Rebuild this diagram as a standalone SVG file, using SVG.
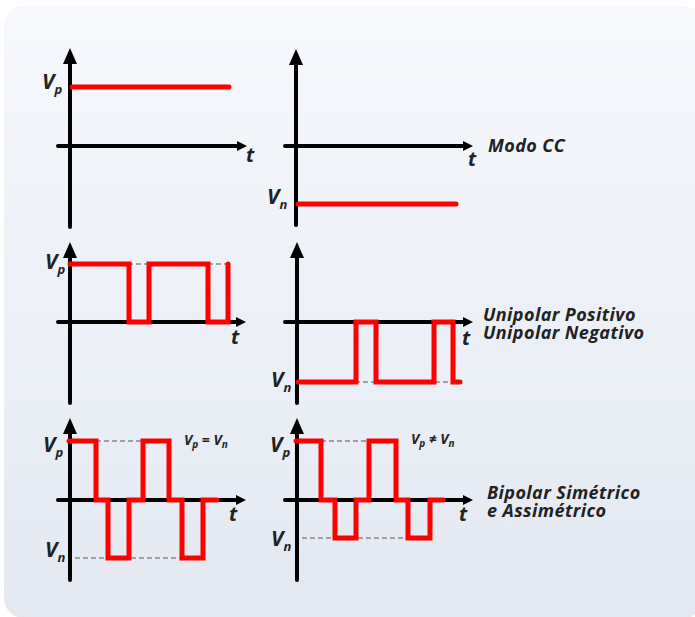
<svg xmlns="http://www.w3.org/2000/svg" width="695" height="617" viewBox="0 0 695 617">
<defs>
<linearGradient id="bg" x1="0" y1="0" x2="0" y2="1">
<stop offset="0" stop-color="#f6f8fc"/>
<stop offset="1" stop-color="#e3e8f1"/>
</linearGradient>
<marker id="ay" markerUnits="userSpaceOnUse" markerWidth="16" markerHeight="14" viewBox="0 0 16 14" refX="2" refY="7" orient="auto">
<path d="M0,0 L16,7 L0,14 z" fill="#000"/>
</marker>
<marker id="ax" markerUnits="userSpaceOnUse" markerWidth="10" markerHeight="10" viewBox="0 0 10 10" refX="2" refY="5" orient="auto">
<path d="M0,0 L10,5 L0,10 z" fill="#000"/>
</marker>
</defs>
<style>
.axis{stroke:#000;stroke-width:4;stroke-linecap:round;fill:none}
.ya{marker-end:url(#ay)}
.xa{marker-end:url(#ax)}
.sig{stroke:#ff0000;stroke-width:5;stroke-linecap:round;stroke-linejoin:miter;fill:none}
.dash{stroke:#555;stroke-width:1;stroke-dasharray:5 3;fill:none}
text{font-family:"Open Sans","Noto Sans","DejaVu Sans",sans-serif;font-weight:bold;font-style:italic;fill:#222}
.v{font-size:21px}
.sub{font-size:13px}
.t{font-size:20px}
.lbl{font-size:18px;letter-spacing:0.4px}
.eq{font-size:14px}
.eqs{font-size:10px}
</style>
<rect x="4" y="6" width="700" height="612" rx="20" fill="url(#bg)"/>

<g id="panel-vp-cc">
<line class="axis ya" x1="70" y1="227" x2="70" y2="62"/>
<line class="axis xa" x1="58" y1="146" x2="239" y2="146"/>
<line class="sig" x1="72" y1="87" x2="229" y2="87"/>
<text class="v" x="42" y="89">V<tspan class="sub" dy="5">p</tspan></text>
<text class="t" x="246" y="162">t</text>
</g>

<g id="panel-vn-cc">
<line class="axis ya" x1="296" y1="225" x2="296" y2="63"/>
<line class="axis xa" x1="285" y1="146" x2="465" y2="146"/>
<line class="sig" x1="298" y1="204" x2="456" y2="204"/>
<text class="v" x="267" y="204">V<tspan class="sub" dy="5">n</tspan></text>
<text class="t" x="468" y="166">t</text>
</g>

<g id="panel-unipolar-pos">
<line class="dash" x1="72" y1="264" x2="228" y2="264"/>
<line class="axis ya" x1="70" y1="403" x2="70" y2="256"/>
<line class="axis xa" x1="58" y1="322" x2="238" y2="322"/>
<polyline class="sig" points="70,264 129,264 129,322 149,322 149,264 208,264 208,322 228,322 228,264"/>
<text class="v" x="45" y="269">V<tspan class="sub" dy="5">p</tspan></text>
<text class="t" x="231" y="344">t</text>
</g>

<g id="panel-unipolar-neg">
<line class="dash" x1="299" y1="382" x2="460" y2="382"/>
<line class="axis ya" x1="297" y1="403" x2="297" y2="256"/>
<line class="axis xa" x1="285" y1="322" x2="465" y2="322"/>
<polyline class="sig" points="298,382 356,382 356,322 376,322 376,382 434,382 434,322 453,322 453,382 460,382"/>
<text class="v" x="271" y="387">V<tspan class="sub" dy="5">n</tspan></text>
<text class="t" x="462" y="345">t</text>
</g>

<g id="panel-bipolar-sim">
<line class="dash" x1="96" y1="441" x2="143" y2="441"/>
<line class="dash" x1="75" y1="558" x2="182" y2="558"/>
<line class="axis ya" x1="70" y1="580" x2="70" y2="432"/>
<line class="axis xa" x1="58" y1="500" x2="238" y2="500"/>
<polyline class="sig" points="69,441 96,441 96,500 108,500 108,558 129,558 129,500 143,500 143,441 169,441 169,500 182,500 182,558 203,558 203,500 217,500"/>
<text class="v" x="43" y="452">V<tspan class="sub" dy="5">p</tspan></text>
<text class="v" x="45" y="557">V<tspan class="sub" dy="5">n</tspan></text>
<text class="eq" x="184" y="445">V<tspan class="eqs" dy="3">p</tspan><tspan dy="-3"> = V</tspan><tspan class="eqs" dy="3">n</tspan></text>
<text class="t" x="229" y="521">t</text>
</g>

<g id="panel-bipolar-assim">
<line class="dash" x1="321" y1="441" x2="369" y2="441"/>
<line class="dash" x1="302" y1="538" x2="408" y2="538"/>
<line class="axis ya" x1="297" y1="580" x2="297" y2="432"/>
<line class="axis xa" x1="285" y1="500" x2="465" y2="500"/>
<polyline class="sig" points="296,441 321,441 321,500 335,500 335,538 356,538 356,500 369,500 369,441 396,441 396,500 408,500 408,538 430,538 430,500 443,500"/>
<text class="v" x="270" y="452">V<tspan class="sub" dy="5">p</tspan></text>
<text class="v" x="271" y="546">V<tspan class="sub" dy="5">n</tspan></text>
<text class="eq" x="411" y="444">V<tspan class="eqs" dy="3">p</tspan><tspan dy="-3"> ≠ V</tspan><tspan class="eqs" dy="3">n</tspan></text>
<text class="t" x="459" y="521">t</text>
</g>

<g id="labels">
<text class="lbl" x="488" y="152">Modo CC</text>
<text class="lbl" x="483" y="321">Unipolar Positivo<tspan x="483" dy="18">Unipolar Negativo</tspan></text>
<text class="lbl" x="487" y="499">Bipolar Simétrico<tspan x="487" dy="18">e Assimétrico</tspan></text>
</g>
</svg>
